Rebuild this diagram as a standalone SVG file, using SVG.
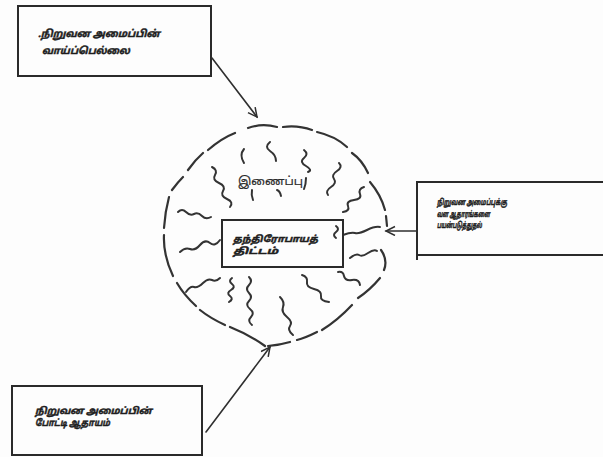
<svg xmlns="http://www.w3.org/2000/svg" width="603" height="457" viewBox="0 0 603 457">
<style>
.box{fill:none;stroke:#2a2a2a;stroke-width:2}
.ln{fill:none;stroke:#2f2f2f;stroke-width:1.6;stroke-linecap:round}
.cl{fill:none;stroke:#333;stroke-width:2.2;stroke-linecap:round}
.sq{fill:none;stroke:#333;stroke-width:2;stroke-linecap:round;stroke-linejoin:round}
.t{font-family:"Noto Sans Tamil","Noto Sans","Liberation Sans",sans-serif;font-weight:bold;font-style:italic;fill:#1e1e1e;stroke:#1e1e1e;stroke-width:0.45}
.t2{font-family:"Noto Sans Tamil","Noto Sans","Liberation Sans",sans-serif;fill:#2a2a2a;stroke:#2a2a2a;stroke-width:0.2}
</style>
<defs>
<marker id="ah" markerWidth="12" markerHeight="12" refX="10" refY="5" orient="auto" markerUnits="userSpaceOnUse">
<path d="M1,0.5 L10,5 L1,9.5" fill="none" stroke="#2f2f2f" stroke-width="1.5"/>
</marker>
</defs>
<rect width="603" height="457" fill="#fdfdfd"/>

<g id="n-top-left">
<rect class="box" x="18" y="6" width="193" height="70"/>
<text class="t" font-size="10" x="38" y="37" textLength="122" lengthAdjust="spacingAndGlyphs">.நிறுவன அமைப்பின்</text>
<text class="t" font-size="10" x="42" y="54" textLength="88" lengthAdjust="spacingAndGlyphs">வாய்ப்பெல்லை</text>
</g>

<g id="n-right">
<path class="box" d="M603,182 L417,182 L417,260 M417,255 L603,255"/>
<text class="t" font-size="8.5" x="437" y="205" textLength="70" lengthAdjust="spacingAndGlyphs">நிறுவன அமைப்புக்கு</text>
<text class="t" font-size="8.5" x="437" y="217" textLength="53" lengthAdjust="spacingAndGlyphs">வள ஆதாரங்களை</text>
<text class="t" font-size="8.5" x="437" y="228" textLength="45" lengthAdjust="spacingAndGlyphs">பயன்படுத்துதல்</text>
</g>

<g id="n-bottom-left">
<rect class="box" x="12" y="386" width="190" height="69"/>
<text class="t" font-size="9.5" x="35" y="414" textLength="117" lengthAdjust="spacingAndGlyphs">நிறுவன அமைப்பின்</text>
<text class="t" font-size="9.5" x="35" y="426" textLength="75" lengthAdjust="spacingAndGlyphs">போட்டி ஆதாயம்</text>
</g>

<g id="n-cloud">
<path class="cl" d="M248,128 Q262,123 277,127 M283,127 Q298,125 312,130 M317,132 Q335,136 347,147 M352,153 Q362,160 368,173 M370,182 Q381,195 385,210 M386,216 L387,226 M381,250 Q388,260 384,270 M380,278 Q370,290 358,298 M352,305 Q338,320 322,330 M317,332 Q305,338 297,340 M290,342 Q280,345 268,346 M265,346 Q250,335 230,327 M225,325 Q210,318 200,310 M196,306 Q184,295 177,283 M173,276 Q163,255 164,235 M164,228 Q165,212 169,197 M172,190 Q178,182 183,177 M188,170 Q195,160 203,153 M208,150 Q222,138 235,133"/>
<text class="t2" font-size="11.5" x="238" y="185" textLength="65" lengthAdjust="spacingAndGlyphs">இணைப்பு</text>
<path class="sq" d="M212,167 q6,3 3,8 t4,8 t4,8 t4,8 t3,8"/>
<path class="sq" d="M244,149 q-5,6 0,14"/>
<path class="sq" d="M270,142 q-6,5 0,9 t6,10"/>
<path class="sq" d="M304,150 q5,4 0,8 t2,8 t2,6"/>
<path class="sq" d="M306,178 q0,6 -2,11"/>
<path class="sq" d="M339,163 q4,4 -2,8 t-3,8 t-3,8 t-3,8"/>
<path class="sq" d="M364,187 q-6,2 -4,7 t-6,6 t-6,6 t-5,6"/>
<path class="sq" d="M252,190 q-1,5 1,10"/>
<path class="sq" d="M277,190 q3,1 4,6"/>
<path class="sq" d="M178,212 q4,-4 8,0 t8,2 t8,2 t9,1"/>
<path class="sq" d="M180,252 q5,-5 10,-3 t10,-4 t10,-2 t10,-3"/>
<path class="sq" d="M186,292 q4,-6 8,-5 t9,-4 t9,-3 t8,-2"/>
<path class="sq" d="M232,278 q-4,3 0,6 t-1,6 t-1,6 t-1,6"/>
<path class="sq" d="M249,277 q4,4 0,8 t0,8 t0,8 t1,8 t1,8 t1,8"/>
<path class="sq" d="M280,297 q5,5 3,10 t4,10 t3,9 t3,9"/>
<path class="sq" d="M302,275 q6,2 5,7 t7,7 t7,7 t8,6"/>
<path class="sq" d="M338,272 q5,-1 6,4 t8,4 t8,5"/>
<path class="sq" d="M350,258 q6,-5 9,-3 t9,-2 t9,-2"/>
<path class="sq" d="M343,235 q8,-3 12,-2 t12,-3 t13,-3"/>
<path class="sq" d="M336,226 q4,3 0,6 t0,6"/>
</g>

<g id="n-inner">
<rect class="box" x="222" y="220" width="121" height="47" fill="#fdfdfd"/>
<text class="t" font-size="9" x="233" y="242" textLength="85" lengthAdjust="spacingAndGlyphs">தந்திரோபாயத்</text>
<text class="t" font-size="9" x="233" y="254" textLength="45" lengthAdjust="spacingAndGlyphs">திட்டம்</text>
</g>

<g id="connectors">
<line class="ln" x1="212" y1="58" x2="257" y2="117" marker-end="url(#ah)"/>
<line class="ln" x1="417" y1="231" x2="386" y2="231" marker-end="url(#ah)"/>
<line class="ln" x1="206" y1="432" x2="270" y2="347" marker-end="url(#ah)"/>
</g>
</svg>
